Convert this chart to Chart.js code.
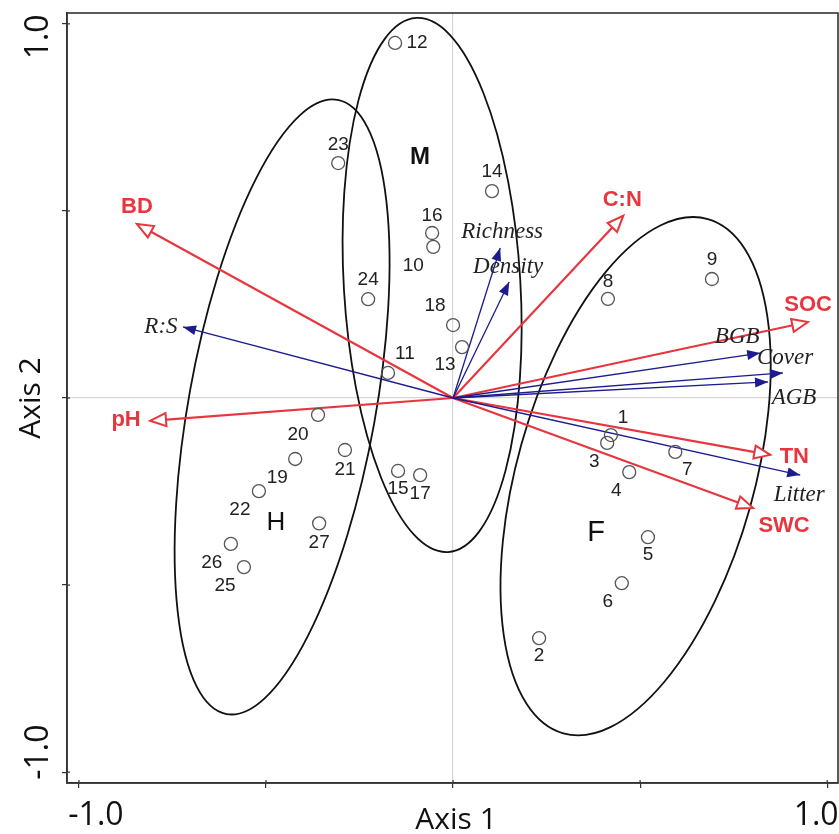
<!DOCTYPE html>
<html><head><meta charset="utf-8">
<script src="https://cdn.jsdelivr.net/npm/chart.js@4.4.1/dist/chart.umd.min.js"></script>
<style>html,body{margin:0;padding:0;background:#fff;}#wrap{width:839px;height:834px;}</style>
</head><body><div id="wrap"><canvas id="c" width="839" height="834"></canvas></div>
<script>
// ---- data ----
const siteIds = ['1','2','3','4','5','6','7','8','9','10','11','12','13','14','15','16','17','18','19','20','21','22','23','24','25','26','27'];
const siteX = [0.422,0.230,0.412,0.471,0.521,0.451,0.594,0.414,0.692,-0.053,-0.174,-0.155,0.024,0.104,-0.147,-0.056,-0.088,0.000,-0.422,-0.361,-0.289,-0.519,-0.307,-0.227,-0.559,-0.594,-0.358];
const siteY = [-0.099,-0.642,-0.120,-0.198,-0.372,-0.495,-0.144,0.265,0.318,0.404,0.067,0.949,0.136,0.553,-0.195,0.441,-0.206,0.195,-0.163,-0.045,-0.139,-0.249,0.628,0.264,-0.452,-0.390,-0.335];

const envNames = ['BD','pH','C:N','SOC','TN','SWC'];
const envX = [-0.845,-0.810,0.455,0.949,0.848,0.802];
const envY = [0.465,-0.061,0.487,0.203,-0.152,-0.294];

const bioNames = ['R:S','Richness','Density','BGB','Cover','AGB','Litter'];
const bioX = [-0.722,0.126,0.150,0.821,0.882,0.842,0.928];
const bioY = [0.190,0.401,0.310,0.120,0.067,0.043,-0.206];

const groupNames = ['M','H','F'];
const groupCX = [-0.056,-0.457,0.488];
const groupCY = [0.302,-0.024,-0.209];
const groupA = [0.715,0.834,0.714];
const groupB = [0.236,0.250,0.317];
const groupAngle = [93.4,79.75,74.3];

const tickValues = [-1,-0.5,0,0.5,1];
const tickLabelValues = [-1,1];
const tickLabelTexts = ['-1.0','1.0'];
const axisTitles = ['Axis 1','Axis 2'];

// ---- layout (pixel offsets for text) ----
const siteLabelOff = [[12,-17],[0,18],[-13,19],[-13,19],[0,18],[-14,19],[12,18],[0,-17],[0,-19],[-20,19],[17,-19],[22,0],[-17,18],[0,-19],[0,18],[0,-17],[0,19],[-18,-19],[-18,19],[-20,20],[0,20],[-19,19],[0,-18],[0,-19],[-19,19],[-19,19],[0,19]];
const envLabelOff = [[0,-17],[-24,-1],[-1,-16],[0,-17],[24,2],[31,18]];
const bioLabelOff = [[-22,0],[2,-16],[-1,-15],[-23,-16],[2,-15],[26,16],[-1,20]];
const groupLabelPx = [[420,157],[276,523],[596,533]];
const groupFonts = ['bold 24px "Liberation Sans", Arial, sans-serif','26px "Liberation Sans", Arial, sans-serif','29px "Liberation Sans", Arial, sans-serif'];

const RED = '#e8363f', NAVY = '#1c1c8c';

const datasets = [];
envNames.forEach((n,i)=>datasets.push({label:n,data:[{x:0,y:0},{x:envX[i],y:envY[i]}],showLine:true,pointRadius:0,borderColor:RED,borderWidth:2.2,order:3}));
bioNames.forEach((n,i)=>datasets.push({label:n,data:[{x:0,y:0},{x:bioX[i],y:bioY[i]}],showLine:true,pointRadius:0,borderColor:NAVY,borderWidth:1.3,order:2}));
datasets.push({label:'sites',data:siteX.map((x,i)=>({x,y:siteY[i]})),pointRadius:6.5,pointHoverRadius:6.5,pointBorderColor:'#555',pointBackgroundColor:'rgba(0,0,0,0)',pointBorderWidth:1.3,order:1});

function head(ctx,x0,y0,x1,y1,len,hw,fill,stroke,lw){
  const a=Math.atan2(y1-y0,x1-x0);
  const bx=x1-len*Math.cos(a), by=y1-len*Math.sin(a);
  const nx=-Math.sin(a)*hw, ny=Math.cos(a)*hw;
  ctx.beginPath();ctx.moveTo(x1,y1);ctx.lineTo(bx+nx,by+ny);ctx.lineTo(bx-nx,by-ny);ctx.closePath();
  ctx.fillStyle=fill;ctx.fill();
  if(stroke){ctx.strokeStyle=stroke;ctx.lineWidth=lw;ctx.lineJoin='miter';ctx.stroke();}
}

const overlay = {
  id:'overlay',
  beforeDatasetsDraw(chart){
    const ctx=chart.ctx, xs=chart.scales.x, ys=chart.scales.y;
    const sx=xs.getPixelForValue(1)-xs.getPixelForValue(0);
    const sy=ys.getPixelForValue(0)-ys.getPixelForValue(1);
    ctx.save();
    groupNames.forEach((g,i)=>{
      ctx.save();
      ctx.translate(xs.getPixelForValue(groupCX[i]), ys.getPixelForValue(groupCY[i]));
      ctx.scale(sx,-sy);
      ctx.beginPath();
      ctx.ellipse(0,0,groupA[i],groupB[i],groupAngle[i]*Math.PI/180,0,Math.PI*2);
      ctx.restore();
      ctx.strokeStyle='#111';ctx.lineWidth=1.8;ctx.stroke();
    });
    ctx.restore();
  },
  afterDatasetsDraw(chart){
    const ctx=chart.ctx, xs=chart.scales.x, ys=chart.scales.y;
    const ox=xs.getPixelForValue(0), oy=ys.getPixelForValue(0);
    ctx.save();
    envNames.forEach((n,i)=>{
      const tx=xs.getPixelForValue(envX[i]), ty=ys.getPixelForValue(envY[i]);
      head(ctx,ox,oy,tx,ty,16,6.5,'#fff',RED,2);
    });
    bioNames.forEach((n,i)=>{
      const tx=xs.getPixelForValue(bioX[i]), ty=ys.getPixelForValue(bioY[i]);
      head(ctx,ox,oy,tx,ty,13,5,NAVY,null,0);
    });
    ctx.textAlign='center';ctx.textBaseline='middle';
    ctx.fillStyle='#222';ctx.font='19px "Liberation Sans", Arial, sans-serif';
    siteIds.forEach((s,i)=>{
      ctx.fillText(s,xs.getPixelForValue(siteX[i])+siteLabelOff[i][0],ys.getPixelForValue(siteY[i])+siteLabelOff[i][1]);
    });
    ctx.fillStyle=RED;ctx.font='bold 22px "Liberation Sans", Arial, sans-serif';
    envNames.forEach((n,i)=>{
      ctx.fillText(n,xs.getPixelForValue(envX[i])+envLabelOff[i][0],ys.getPixelForValue(envY[i])+envLabelOff[i][1]);
    });
    ctx.fillStyle='#222';ctx.font='italic 23px "Liberation Serif", "Times New Roman", serif';
    bioNames.forEach((n,i)=>{
      ctx.fillText(n,xs.getPixelForValue(bioX[i])+bioLabelOff[i][0],ys.getPixelForValue(bioY[i])+bioLabelOff[i][1]);
    });
    ctx.fillStyle='#111';
    groupNames.forEach((g,i)=>{ctx.font=groupFonts[i];ctx.fillText(g,groupLabelPx[i][0],groupLabelPx[i][1]);});
    ctx.restore();
  },
  afterDraw(chart){
    const ctx=chart.ctx, a=chart.chartArea, xs=chart.scales.x, ys=chart.scales.y;
    ctx.save();
    ctx.strokeStyle='#333';ctx.lineWidth=1.6;
    ctx.strokeRect(a.left,a.top,a.right-a.left,a.bottom-a.top);
    ctx.lineWidth=1.2;
    tickValues.forEach(v=>{
      const px=xs.getPixelForValue(v), py=ys.getPixelForValue(v);
      ctx.beginPath();ctx.moveTo(px,a.bottom);ctx.lineTo(px,a.bottom-3);ctx.stroke();
      ctx.beginPath();ctx.moveTo(a.left,py);ctx.lineTo(a.left+3,py);ctx.stroke();
    });
    ctx.fillStyle='#111';
    ctx.font='32px "Open Sans", sans-serif';ctx.textAlign='center';ctx.textBaseline='alphabetic';
    const xOff=[17,-11], yOff=[-20,13];
    tickLabelValues.forEach((v,i)=>{
      ctx.fillText(tickLabelTexts[i],xs.getPixelForValue(v)+xOff[i],825);
    });
    tickLabelValues.forEach((v,i)=>{
      ctx.save();ctx.translate(48,ys.getPixelForValue(v)+yOff[i]);ctx.rotate(-Math.PI/2);
      ctx.fillText(tickLabelTexts[i],0,0);ctx.restore();
    });
    ctx.font='30px "Open Sans", sans-serif';
    ctx.fillText(axisTitles[0],xs.getPixelForValue(0)+3,829);
    ctx.save();ctx.translate(40,ys.getPixelForValue(0));ctx.rotate(-Math.PI/2);ctx.fillText(axisTitles[1],0,0);ctx.restore();
    ctx.restore();
  }
};

const gridOpts = {
  drawOnChartArea:true, drawTicks:true, tickLength:5,
  color:(c)=> (c.tick && c.tick.value===0) ? '#d6d6d6' : 'rgba(0,0,0,0)',
  tickColor:'#333', lineWidth:1.2
};

new Chart(document.getElementById('c'),{
  type:'scatter',
  data:{datasets},
  options:{
    responsive:false, animation:false,
    layout:{autoPadding:false,padding:{left:0,right:1,top:13,bottom:0}},
    plugins:{legend:{display:false},tooltip:{enabled:false}},
    scales:{
      x:{type:'linear',min:-1.032,max:1.029,
        afterBuildTicks:(s)=>{s.ticks=tickValues.map(v=>({value:v}));},
        afterFit:(s)=>{s.height=51;s.paddingLeft=0;s.paddingRight=0;},
        ticks:{display:false},grid:gridOpts,border:{display:true,color:'#333',width:1.6}},
      y:{type:'linear',min:-1.029,max:1.029,
        afterBuildTicks:(s)=>{s.ticks=tickValues.map(v=>({value:v}));},
        afterFit:(s)=>{s.width=67;s.paddingTop=0;s.paddingBottom=0;},
        ticks:{display:false},grid:gridOpts,border:{display:true,color:'#333',width:1.6}}
    }
  },
  plugins:[overlay]
});
</script>
</body></html>
